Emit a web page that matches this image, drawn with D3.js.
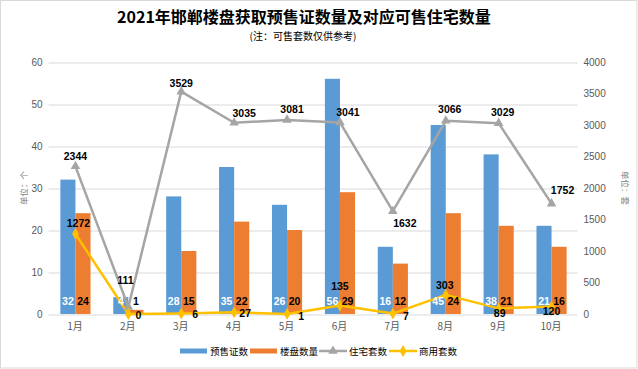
<!DOCTYPE html>
<html>
<head>
<meta charset="utf-8">
<script src="https://cdn.jsdelivr.net/npm/d3@7"></script>
<style>
  html, body { margin: 0; padding: 0; background: #fff; }
  svg { display: block; }
</style>
</head>
<body>
<svg id="chart" width="638" height="369"></svg>
<script>
// ---- data ----
const months = ["1月","2月","3月","4月","5月","6月","7月","8月","9月","10月"];
const permits = [32, 4, 28, 35, 26, 56, 16, 45, 38, 21];        // 预售证数
const projects = [24, 1, 15, 22, 20, 29, 12, 24, 21, 16];        // 楼盘数量
const housing = [2344, 111, 3529, 3035, 3081, 3041, 1632, 3066, 3029, 1752]; // 住宅套数
const commercial = [1272, 0, 6, 27, 1, 135, 7, 303, 89, 120];    // 商用套数
const leftTicks = [0, 10, 20, 30, 40, 50, 60];
const rightTicks = [0, 500, 1000, 1500, 2000, 2500, 3000, 3500, 4000];
const seriesNames = ["预售证数", "楼盘数量", "住宅套数", "商用套数"];
const titleText = "2021年邯郸楼盘获取预售证数量及对应可售住宅数量";
const subtitleText = "(注：可售套数仅供参考)";

// ---- label placement (style, relative offsets) ----
const housingLabelOffset = [[0,-10],[-3,-27],[0,-9],[10,-10],[5,-11],[8,-10],[12,12],[4,-12],[4,-11],[11,-14]];
const commercialLabelOffset = [[3,-11],[10,1],[14,0],[11,1],[14,2],[0,-19],[13,2],[-1,-10],[1,5],[0,5]];

const colors = { blue: "#5B9BD5", orange: "#ED7D31", gray: "#A5A5A5", yellow: "#FFC000" };
const cjk = "'Noto Sans CJK SC', 'Noto Sans', sans-serif";
const num = "'Liberation Sans', Arial, sans-serif";

const svg = d3.select("#chart");
const W = 638, H = 369;
const plot = { left: 48.5, right: 577.5, top: 62, bottom: 314 };

// border
svg.append("rect").attr("x", 0.5).attr("y", 0.5).attr("width", W - 1.5).attr("height", H - 1.5)
  .attr("fill", "#fff").attr("stroke", "#d9d9d9").attr("stroke-width", 1);

const x = d3.scaleBand().domain(months).range([plot.left, plot.right]).paddingInner(0).paddingOuter(0);
const yL = d3.scaleLinear().domain([0, 60]).range([plot.bottom, plot.top]);
const yR = d3.scaleLinear().domain([0, 4000]).range([plot.bottom, plot.top]);
const cx = m => x(m) + x.bandwidth() / 2 + 0.5;
const bw = x.bandwidth() * 0.285;

// gridlines + left axis
const gL = svg.append("g").attr("transform", `translate(${plot.left},0)`)
  .call(d3.axisLeft(yL).tickValues(leftTicks).tickSizeInner(-(plot.right - plot.left)).tickSizeOuter(0).tickPadding(6));
gL.select(".domain").remove();
gL.selectAll("line").attr("stroke", "#d9d9d9").attr("stroke-width", 1)
  .attr("transform", "translate(0,0.5)");
gL.selectAll("text").attr("fill", "#595959").style("font-family", num).style("font-size", "10px");

// right axis
const gR = svg.append("g").attr("transform", `translate(${plot.right},0)`)
  .call(d3.axisRight(yR).tickValues(rightTicks).tickFormat(d3.format("d")).tickSize(0).tickPadding(6));
gR.select(".domain").remove();
gR.selectAll("text").attr("fill", "#595959").style("font-family", num).style("font-size", "10px");

// bottom axis
const gB = svg.append("g").attr("transform", `translate(0,${plot.bottom})`)
  .call(d3.axisBottom(x).tickSize(0).tickPadding(9));
gB.select(".domain").remove();
gB.selectAll("text").attr("fill", "#595959").style("font-family", cjk).style("font-size", "10px");

// axis titles
svg.append("text").attr("transform", `translate(25,188) rotate(-90)`)
  .attr("text-anchor", "middle").attr("dominant-baseline", "middle")
  .attr("fill", "#7f7f7f").style("font-family", cjk).style("font-size", "8.5px").text("单位：个");
svg.append("text").attr("transform", `translate(624,188) rotate(90)`)
  .attr("text-anchor", "middle").attr("dominant-baseline", "middle")
  .attr("fill", "#7f7f7f").style("font-family", cjk).style("font-size", "8.5px").text("单位：套");

// bars
const bars = svg.append("g");
bars.selectAll("rect.blue").data(permits).join("rect").attr("class", "blue")
  .attr("x", (d, i) => cx(months[i]) - bw).attr("width", bw)
  .attr("y", d => yL(d)).attr("height", d => yL(0) - yL(d)).attr("fill", colors.blue);
bars.selectAll("rect.orange").data(projects).join("rect").attr("class", "orange")
  .attr("x", (d, i) => cx(months[i])).attr("width", bw)
  .attr("y", d => yL(d)).attr("height", d => yL(0) - yL(d)).attr("fill", colors.orange);

// lines
const lineH = d3.line().x((d, i) => cx(months[i])).y(d => yR(d));
svg.append("path").datum(housing).attr("d", lineH).attr("fill", "none")
  .attr("stroke", colors.gray).attr("stroke-width", 2.5).attr("stroke-linejoin", "round");
svg.append("path").datum(commercial).attr("d", lineH).attr("fill", "none")
  .attr("stroke", colors.yellow).attr("stroke-width", 2.5).attr("stroke-linejoin", "round");

// markers
const tri = d3.symbol().type(d3.symbolTriangle).size(40);
const dia = d3.symbol().type(d3.symbolDiamond).size(40);
svg.append("g").selectAll("path").data(housing).join("path")
  .attr("d", tri).attr("transform", (d, i) => `translate(${cx(months[i])},${yR(d)})`)
  .attr("fill", colors.gray);
svg.append("g").selectAll("path").data(commercial).join("path")
  .attr("d", dia).attr("transform", (d, i) => `translate(${cx(months[i])},${yR(d)})`)
  .attr("fill", colors.yellow);

// bar labels
const labelY = yL(0) - 13;
svg.append("g").selectAll("text").data(permits).join("text")
  .attr("x", (d, i) => cx(months[i]) - bw / 2).attr("y", labelY)
  .attr("text-anchor", "middle").attr("dominant-baseline", "central")
  .attr("fill", "#fff").style("font-family", num).style("font-weight", "bold").style("font-size", "10.5px")
  .text(d => d);
svg.append("g").selectAll("text").data(projects).join("text")
  .attr("x", (d, i) => cx(months[i]) + bw / 2).attr("y", labelY)
  .attr("text-anchor", "middle").attr("dominant-baseline", "central")
  .attr("fill", "#000").style("font-family", num).style("font-weight", "bold").style("font-size", "10.5px")
  .text(d => d);

// line labels
svg.append("g").selectAll("text").data(housing).join("text")
  .attr("x", (d, i) => cx(months[i]) + housingLabelOffset[i][0])
  .attr("y", (d, i) => yR(d) + housingLabelOffset[i][1])
  .attr("text-anchor", "middle").attr("dominant-baseline", "central")
  .attr("fill", "#000").style("font-family", num).style("font-weight", "bold").style("font-size", "10.5px")
  .text(d => d);
svg.append("g").selectAll("text").data(commercial).join("text")
  .attr("x", (d, i) => cx(months[i]) + commercialLabelOffset[i][0])
  .attr("y", (d, i) => yR(d) + commercialLabelOffset[i][1])
  .attr("text-anchor", "middle").attr("dominant-baseline", "central")
  .attr("fill", "#000").style("font-family", num).style("font-weight", "bold").style("font-size", "10.5px")
  .text(d => d);

// title
svg.append("text").attr("x", 304).attr("y", 16).attr("text-anchor", "middle").attr("dominant-baseline", "central")
  .attr("fill", "#000").style("font-family", cjk).style("font-weight", "bold").style("font-size", "16px")
  .text(titleText);
svg.append("text").attr("x", 303).attr("y", 35).attr("text-anchor", "middle").attr("dominant-baseline", "central")
  .attr("fill", "#000").style("font-family", cjk).style("font-size", "10px")
  .text(subtitleText);

// legend
const legendX = [180, 250, 319, 389];
const lg = svg.append("g");
seriesNames.forEach((name, i) => {
  const g = lg.append("g").attr("transform", `translate(${legendX[i]},351)`);
  if (i < 2) {
    g.append("rect").attr("x", 0).attr("y", -2.5).attr("width", 27).attr("height", 5)
      .attr("fill", i === 0 ? colors.blue : colors.orange);
  } else {
    const c = i === 2 ? colors.gray : colors.yellow;
    g.append("line").attr("x1", 0).attr("x2", 28).attr("y1", 0).attr("y2", 0)
      .attr("stroke", c).attr("stroke-width", 2.5);
    g.append("path").attr("d", i === 2 ? tri : dia).attr("transform", "translate(14,0)").attr("fill", c);
  }
  g.append("text").attr("x", 30).attr("y", 0).attr("dominant-baseline", "central")
    .attr("fill", "#000").style("font-family", cjk).style("font-size", "9.5px").text(name);
});
</script>
</body>
</html>
